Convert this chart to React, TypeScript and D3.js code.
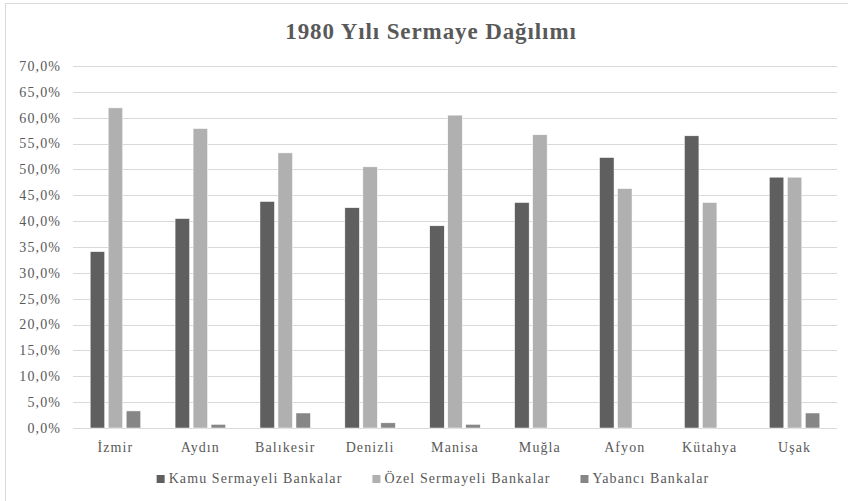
import React, { useEffect, useRef } from "react";
import * as d3 from "d3";

const categories = ["İzmir", "Aydın", "Balıkesir", "Denizli", "Manisa", "Muğla", "Afyon", "Kütahya", "Uşak"];
const seriesNames = ["Kamu Sermayeli Bankalar", "Özel Sermayeli Bankalar", "Yabancı Bankalar"];
const kamu = [34.1, 40.5, 43.8, 42.6, 39.1, 43.6, 52.3, 56.5, 48.5];
const ozel = [61.9, 57.9, 53.2, 50.5, 60.5, 56.7, 46.3, 43.6, 48.5];
const yabanci = [3.3, 0.7, 2.9, 1.0, 0.7, 0, 0, 0, 2.9];
const yTicks = [0, 5, 10, 15, 20, 25, 30, 35, 40, 45, 50, 55, 60, 65, 70];
const colors = ["#5f5f5f", "#b0b0b0", "#868686"];
const title = "1980 Yılı Sermaye Dağılımı";

const W = 848;
const H = 501;
const FONT = "'Liberation Serif', 'Times New Roman', serif";

export default function App() {
  const ref = useRef<SVGSVGElement | null>(null);

  useEffect(() => {
    const svg = d3.select(ref.current);
    svg.selectAll("*").remove();

    const left = 73, right = 837, top = 66, bottom = 428;
    const x0 = d3.scaleBand<string>().domain(categories).range([left, right]).padding(0);
    const x1 = d3.scaleBand<string>().domain(seriesNames).range([-25.25, 25.25]).paddingInner(0.194).paddingOuter(0);
    const y = d3.scaleLinear().domain([0, 70]).range([bottom, top]);

    svg.append("rect").attr("x", 0).attr("y", 0).attr("width", W).attr("height", H).attr("fill", "#fff");
    svg.append("rect").attr("x", 5.5).attr("y", 3.5).attr("width", 870).attr("height", 520)
      .attr("fill", "none").attr("stroke", "#d9d9d9").attr("stroke-width", 1);

    // title
    svg.append("text").attr("x", 431).attr("y", 39).attr("text-anchor", "middle")
      .attr("font-family", FONT).attr("font-weight", "bold").attr("font-size", 23)
      .attr("letter-spacing", 0.9).attr("fill", "#595959").text(title);

    // gridlines
    svg.append("g").selectAll("line").data(yTicks).join("line")
      .attr("x1", left).attr("x2", right)
      .attr("y1", d => Math.round(y(d)) + 0.5).attr("y2", d => Math.round(y(d)) + 0.5)
      .attr("stroke", "#d9d9d9").attr("stroke-width", 1);

    // y labels
    const fmt = (d: number) => d.toFixed(1).replace(".", ",") + "%";
    svg.append("g").selectAll("text").data(yTicks).join("text")
      .attr("x", 61).attr("y", d => y(d)).attr("dy", "0.35em").attr("text-anchor", "end")
      .attr("font-family", FONT).attr("font-size", 14).attr("letter-spacing", 1.1)
      .attr("fill", "#595959").text(d => fmt(d));

    // bars
    const data = [kamu, ozel, yabanci];
    seriesNames.forEach((s, si) => {
      svg.append("g").selectAll("rect").data(categories).join("rect")
        .attr("x", c => (x0(c) as number) + x0.bandwidth() / 2 + (x1(s) as number))
        .attr("width", x1.bandwidth())
        .attr("y", (c, i) => y(data[si][i]))
        .attr("height", (c, i) => bottom - y(data[si][i]))
        .attr("fill", colors[si])
        .attr("stroke", "#ffffff").attr("stroke-width", 0.5)
        .attr("display", (c, i) => (data[si][i] > 0 ? null : "none"));
    });

    // category labels
    svg.append("g").selectAll("text").data(categories).join("text")
      .attr("x", c => (x0(c) as number) + x0.bandwidth() / 2)
      .attr("y", 452).attr("text-anchor", "middle")
      .attr("font-family", FONT).attr("font-size", 14).attr("letter-spacing", 1.1)
      .attr("fill", "#595959").text(c => c);

    // legend
    const lg = svg.append("g");
    const items = seriesNames.map((s, i) => {
      const g = lg.append("g");
      g.append("rect").attr("x", 0).attr("y", -8).attr("width", 8).attr("height", 8).attr("fill", colors[i]);
      const t = g.append("text").attr("x", 12).attr("y", 0)
        .attr("font-family", FONT).attr("font-size", 14).attr("letter-spacing", 1.1)
        .attr("fill", "#595959").text(s);
      const w = 12 + (t.node() as SVGTextElement).getComputedTextLength();
      return { g, w };
    });
    const gap = 30;
    const total = d3.sum(items, d => d.w) + gap * (items.length - 1);
    let cx = 433 - total / 2;
    items.forEach(it => {
      it.g.attr("transform", `translate(${cx},483)`);
      cx += it.w + gap;
    });
  }, []);

  return (
    <svg ref={ref} width={W} height={H} style={{ position: "absolute", left: 0, top: 0, display: "block" }} />
  );
}
